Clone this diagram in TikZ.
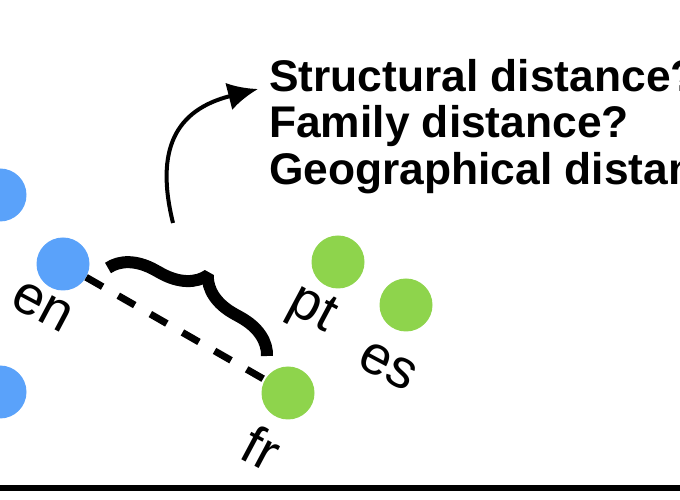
\documentclass[tikz,border=0pt]{standalone}
\usepackage{fontspec}
\setmainfont{Liberation Sans}
\usetikzlibrary{arrows.meta,decorations.pathreplacing}
\definecolor{langblue}{RGB}{90,162,250}
\definecolor{langgreen}{RGB}{142,212,76}

\begin{document}
\begin{tikzpicture}[>={Latex[length=30bp,width=28bp]},line join=bevel,
    lang/.style={circle,fill=#1,minimum size=53bp,inner sep=0pt},
    code/.style={font=\fontsize{55}{55}\selectfont,rotate=-28,inner sep=0pt},
    question/.style={anchor=base west,inner sep=0pt,font=\bfseries\fontsize{44.5}{46}\selectfont},
  ]
    \useasboundingbox (0bp,0bp) rectangle (680bp,500bp);
    \clip (0bp,0bp) rectangle (680bp,500bp);
    %%
    \node (blueA) at (0.0bp,305.0bp) [lang=langblue] {};
    \node (blueB) at (0.0bp,108.0bp) [lang=langblue] {};
    \node (en) at (63.0bp,236.0bp) [lang=langblue] {};
    \node (pt) at (338.0bp,238.0bp) [lang=langgreen] {};
    \node (es) at (406.0bp,195.0bp) [lang=langgreen] {};
    \node (fr) at (288.0bp,107.0bp) [lang=langgreen] {};
    \node (enlabel) at (42.0bp,193.0bp) [code] {en};
    \node (ptlabel) at (311.0bp,189.0bp) [code] {pt};
    \node (eslabel) at (388.0bp,134.0bp) [code] {es};
    \node (frlabel) at (262.0bp,52.0bp) [code] {fr};
    \node (q1) at (269.0bp,408.0bp) [question] {Structural distance?};
    \node (q2) at (269.0bp,362.0bp) [question] {Family distance?};
    \node (q3) at (269.0bp,315.0bp) [question] {Geographical distance?};
    \coordinate (braceA) at (108.0bp,232.0bp);
    \coordinate (braceB) at (267.0bp,144.0bp);
    \coordinate (from) at (173.0bp,277.0bp);
    \coordinate (to) at (258.0bp,411.0bp);
    \draw [line width=7bp,dash pattern=on 19bp off 18bp] (en) -- (fr);
    \draw [line width=12bp,decorate,decoration={brace,amplitude=42bp}] (braceA) -- (braceB);
    \draw [->,line width=4bp] (from) ..controls (155.0bp,350.0bp) and (175.0bp,390.0bp)  .. (to);
    \draw [line width=6bp] (0bp,12.0bp) -- (680bp,12.0bp);
    %
\end{tikzpicture}
\end{document}
